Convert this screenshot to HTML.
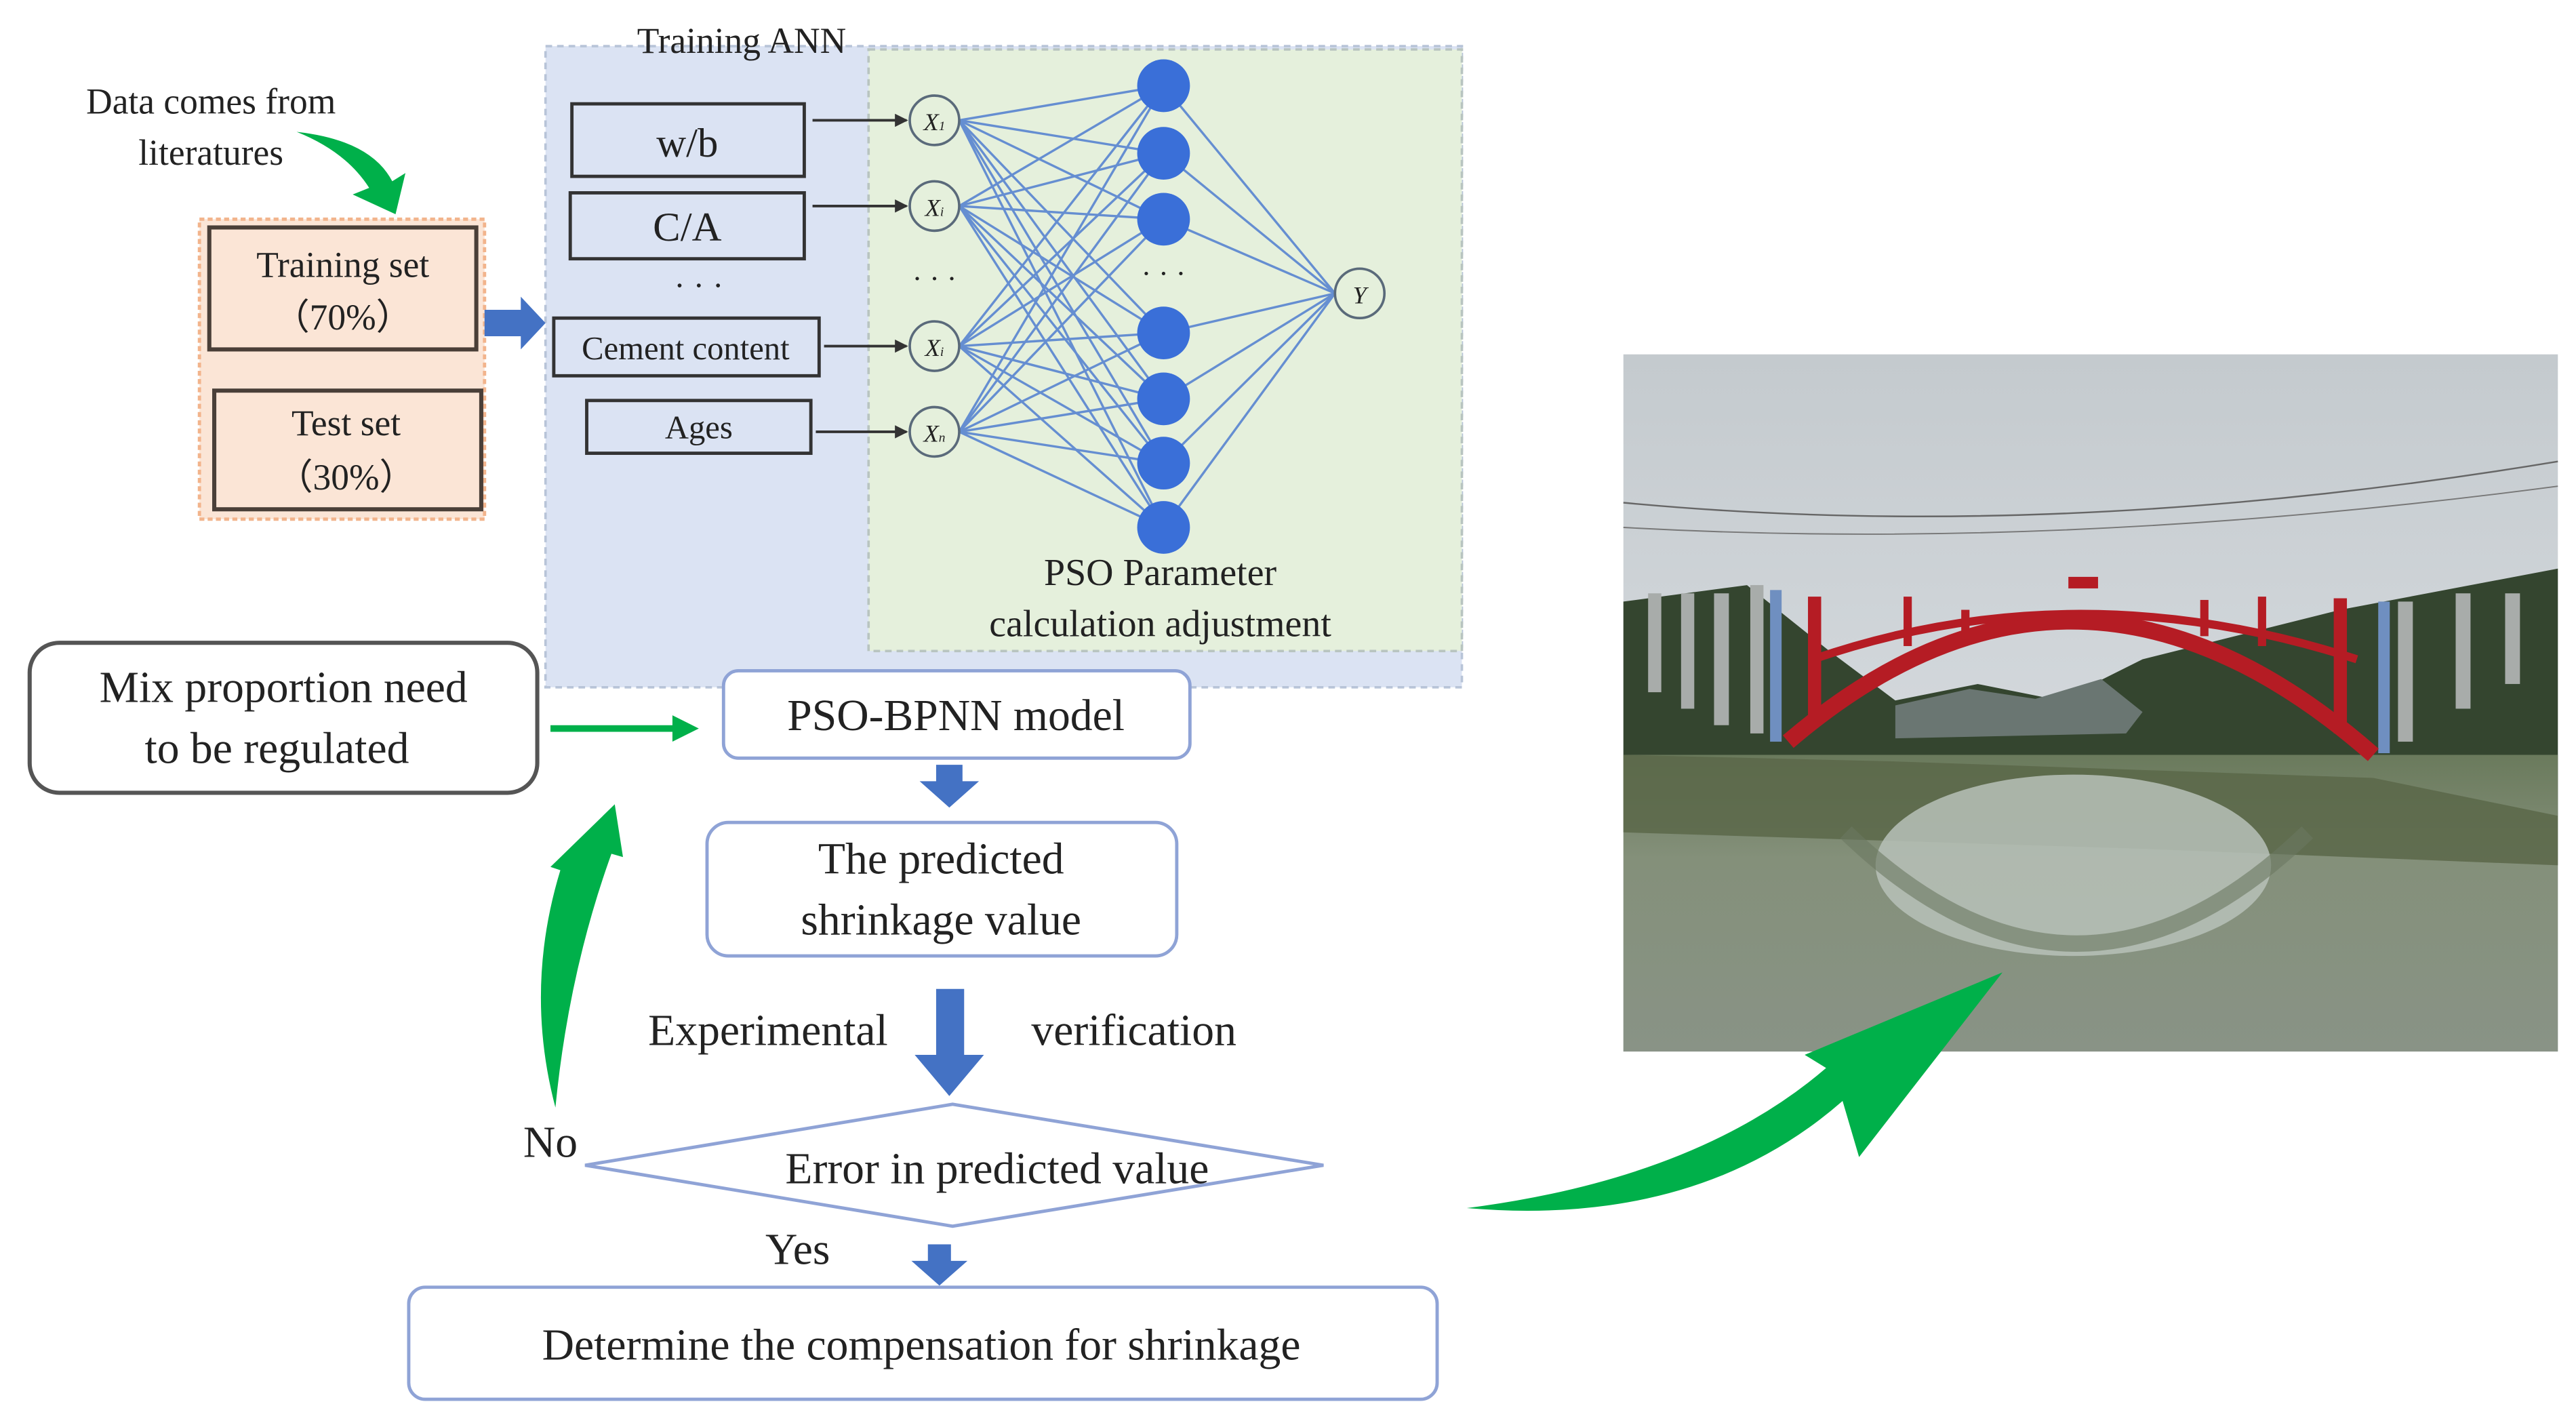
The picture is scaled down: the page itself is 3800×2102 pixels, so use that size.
<!DOCTYPE html>
<html><head><meta charset="utf-8"><style>
html,body{margin:0;padding:0;background:#fff;}
svg{display:block;}
svg text{font-family:"Liberation Serif","Times New Roman","DejaVu Serif",serif;fill:#222;}
</style></head><body>
<svg width="3800" height="2102" viewBox="0 0 1563 864.6" preserveAspectRatio="none" xmlns="http://www.w3.org/2000/svg" font-family="Liberation Serif, Times New Roman, DejaVu Serif, serif">
<defs>
<linearGradient id="sky" x1="0" y1="0" x2="0" y2="1">
<stop offset="0" stop-color="#c4cace"/><stop offset="0.5" stop-color="#d2d7db"/><stop offset="1" stop-color="#c8ced0"/>
</linearGradient>
<linearGradient id="water" x1="0" y1="0" x2="0" y2="1">
<stop offset="0" stop-color="#6a7a5c"/><stop offset="0.35" stop-color="#84907a"/><stop offset="1" stop-color="#899386"/>
</linearGradient>
<marker id="ah" markerWidth="8" markerHeight="8" refX="7" refY="4" orient="auto" markerUnits="userSpaceOnUse"><path d="M0,0 L8,4 L0,8 z" fill="#333"/></marker>
</defs>

<rect x="331" y="28" width="556" height="389" fill="#dbe3f3" stroke="#b8c4d8" stroke-width="1.5" stroke-dasharray="4,3"/>
<rect x="527" y="30" width="360" height="365" fill="#e5f0dc" stroke="#b8c4c0" stroke-width="1.5" stroke-dasharray="4,3"/>
<text x="450" y="32" font-size="22" text-anchor="middle">Training ANN</text>

<text x="128" y="69" font-size="22" text-anchor="middle">Data comes from</text>
<text x="128" y="100" font-size="22" text-anchor="middle">literatures</text>
<path d="M180,80 Q225,85 238,110 L246,105 L240,130 L214,118 L224,114 Q210,92 180,80 z" fill="#00b04a"/>

<rect x="121" y="133" width="173" height="182" fill="#fbe5d6" stroke="#f2b48c" stroke-width="2" stroke-dasharray="3,2"/>
<rect x="127" y="138" width="162" height="74" fill="#fbe5d6" stroke="#4a3f38" stroke-width="2.5"/>
<text x="208" y="168" font-size="22" text-anchor="middle">Training set</text>
<text x="208" y="200" font-size="22" text-anchor="middle">（70%）</text>
<rect x="130" y="237" width="162" height="72" fill="#fbe5d6" stroke="#4a3f38" stroke-width="2.5"/>
<text x="210" y="264" font-size="22" text-anchor="middle">Test set</text>
<text x="210" y="297" font-size="22" text-anchor="middle">（30%）</text>
<path d="M294,188 L316,188 L316,180 L331,196 L316,212 L316,204 L294,204 z" fill="#4472c4"/>

<g fill="#dbe3f3" stroke="#333" stroke-width="2">
<rect x="347" y="63" width="141" height="44"/>
<rect x="346" y="117" width="142" height="40"/>
<rect x="336" y="193" width="161" height="35"/>
<rect x="356" y="243" width="136" height="32"/>
</g>
<text x="417" y="95" font-size="25" text-anchor="middle">w/b</text>
<text x="417" y="146" font-size="25" text-anchor="middle">C/A</text>
<text x="424" y="180" font-size="20" text-anchor="middle">· · ·</text>
<text x="416" y="218" font-size="20" text-anchor="middle">Cement content</text>
<text x="424" y="266" font-size="20" text-anchor="middle">Ages</text>
<g stroke="#333" stroke-width="1.6" marker-end="url(#ah)">
<line x1="493" y1="73" x2="550" y2="73"/>
<line x1="493" y1="125" x2="550" y2="125"/>
<line x1="500" y1="210" x2="550" y2="210"/>
<line x1="495" y1="262" x2="550" y2="262"/>
</g>

<g stroke="#4f7ed0" stroke-width="1.4" opacity="0.85">
<line x1="582" y1="73" x2="706" y2="52"/><line x1="582" y1="73" x2="706" y2="93"/><line x1="582" y1="73" x2="706" y2="133"/><line x1="582" y1="73" x2="706" y2="202"/><line x1="582" y1="73" x2="706" y2="242"/><line x1="582" y1="73" x2="706" y2="281"/><line x1="582" y1="73" x2="706" y2="320"/>
<line x1="582" y1="125" x2="706" y2="52"/><line x1="582" y1="125" x2="706" y2="93"/><line x1="582" y1="125" x2="706" y2="133"/><line x1="582" y1="125" x2="706" y2="202"/><line x1="582" y1="125" x2="706" y2="242"/><line x1="582" y1="125" x2="706" y2="281"/><line x1="582" y1="125" x2="706" y2="320"/>
<line x1="582" y1="210" x2="706" y2="52"/><line x1="582" y1="210" x2="706" y2="93"/><line x1="582" y1="210" x2="706" y2="133"/><line x1="582" y1="210" x2="706" y2="202"/><line x1="582" y1="210" x2="706" y2="242"/><line x1="582" y1="210" x2="706" y2="281"/><line x1="582" y1="210" x2="706" y2="320"/>
<line x1="582" y1="262" x2="706" y2="52"/><line x1="582" y1="262" x2="706" y2="93"/><line x1="582" y1="262" x2="706" y2="133"/><line x1="582" y1="262" x2="706" y2="202"/><line x1="582" y1="262" x2="706" y2="242"/><line x1="582" y1="262" x2="706" y2="281"/><line x1="582" y1="262" x2="706" y2="320"/>
<line x1="706" y1="52" x2="810" y2="178"/><line x1="706" y1="93" x2="810" y2="178"/><line x1="706" y1="133" x2="810" y2="178"/><line x1="706" y1="202" x2="810" y2="178"/><line x1="706" y1="242" x2="810" y2="178"/><line x1="706" y1="281" x2="810" y2="178"/><line x1="706" y1="320" x2="810" y2="178"/>
</g>
<g fill="#e5f0dc" stroke="#5a6a7a" stroke-width="1.5">
<circle cx="567" cy="73" r="15"/><circle cx="567" cy="125" r="15"/><circle cx="567" cy="210" r="15"/><circle cx="567" cy="262" r="15"/><circle cx="825" cy="178" r="15"/>
</g>
<g font-size="15" font-style="italic" text-anchor="middle">
<text x="567" y="79">X<tspan font-size="8">1</tspan></text>
<text x="567" y="131">X<tspan font-size="8">i</tspan></text>
<text x="567" y="216">X<tspan font-size="8">i</tspan></text>
<text x="567" y="268">X<tspan font-size="8">n</tspan></text>
<text x="825" y="184">Y</text>
</g>
<text x="567" y="175" font-size="18" text-anchor="middle">· · ·</text>
<text x="706" y="172" font-size="18" text-anchor="middle">· · ·</text>
<g fill="#3a6fd8">
<circle cx="706" cy="52" r="16"/><circle cx="706" cy="93" r="16"/><circle cx="706" cy="133" r="16"/><circle cx="706" cy="202" r="16"/><circle cx="706" cy="242" r="16"/><circle cx="706" cy="281" r="16"/><circle cx="706" cy="320" r="16"/>
</g>
<text x="704" y="355" font-size="23" text-anchor="middle">PSO Parameter</text>
<text x="704" y="386" font-size="23" text-anchor="middle">calculation adjustment</text>

<rect x="18" y="390" width="308" height="91" rx="18" fill="#fff" stroke="#555" stroke-width="2.5"/>
<text x="172" y="426" font-size="27" text-anchor="middle">Mix proportion need</text>
<text x="168" y="463" font-size="27" text-anchor="middle">to be regulated</text>
<path d="M334,440 L408,440 L408,434 L424,442 L408,450 L408,444 L334,444 z" fill="#00b04a"/>

<rect x="439" y="407" width="283" height="53" rx="9" fill="#fff" stroke="#8fa3d6" stroke-width="2"/>
<text x="580" y="443" font-size="27" text-anchor="middle">PSO-BPNN model</text>
<path d="M568,464 L584,464 L584,474 L594,474 L576,490 L558,474 L568,474 z" fill="#4472c4"/>

<rect x="429" y="499" width="285" height="81" rx="13" fill="#fff" stroke="#8fa3d6" stroke-width="2"/>
<text x="571" y="530" font-size="27" text-anchor="middle">The predicted</text>
<text x="571" y="567" font-size="27" text-anchor="middle">shrinkage value</text>

<path d="M568,600 L585,600 L585,640 L597,640 L576,665 L555,640 L568,640 z" fill="#4472c4"/>
<text x="466" y="634" font-size="27" text-anchor="middle">Experimental</text>
<text x="688" y="634" font-size="27" text-anchor="middle">verification</text>

<polygon points="355,707 578,670 803,707 578,744" fill="#fff" stroke="#8fa3d6" stroke-width="2"/>
<text x="605" y="718" font-size="27" text-anchor="middle">Error in predicted value</text>
<text x="334" y="702" font-size="27" text-anchor="middle">No</text>
<text x="484" y="767" font-size="27" text-anchor="middle">Yes</text>
<path d="M563,755 L577,755 L577,765 L587,765 L570,780 L553,765 L563,765 z" fill="#4472c4"/>

<rect x="248" y="781" width="624" height="68" rx="10" fill="#fff" stroke="#8fa3d6" stroke-width="2"/>
<text x="559" y="825" font-size="27" text-anchor="middle">Determine the compensation for shrinkage</text>

<path d="M337,672 Q318,600 340,528 L334,526 L373,488 L378,520 L371,518 Q345,590 337,672 z" fill="#00b04a"/>

<!-- photo -->
<rect x="985" y="215" width="567" height="423" fill="url(#sky)"/>
<path d="M985,365 L1060,355 L1110,395 L1150,425 L1200,415 L1250,425 L1300,400 L1360,385 L1420,370 L1552,345 L1552,495 L1440,472 L1150,462 L985,458 z" fill="#34452f"/>
<path d="M1150,428 L1195,418 L1235,424 L1275,412 L1300,432 L1290,445 L1150,448 z" fill="#6a7672"/>
<rect x="985" y="458" width="567" height="180" fill="url(#water)"/>
<path d="M985,458 L1150,462 L1440,472 L1552,495 L1552,525 L1300,515 L985,505 z" fill="#5a6749" opacity="0.85"/>
<ellipse cx="1258" cy="525" rx="120" ry="55" fill="#b7c1b8" opacity="0.85"/>
<path d="M1120,505 Q1260,640 1400,505" fill="none" stroke="#6a7860" stroke-width="10" opacity="0.6"/>
<g fill="#a8acaa">
<rect x="1000" y="360" width="8" height="60"/><rect x="1020" y="360" width="8" height="70"/><rect x="1040" y="360" width="9" height="80"/><rect x="1062" y="355" width="8" height="90"/>
<rect x="1455" y="365" width="9" height="85"/><rect x="1490" y="360" width="9" height="70"/><rect x="1520" y="360" width="9" height="55"/>
</g>
<rect x="1074" y="358" width="7" height="92" fill="#6f8fc0"/>
<rect x="1443" y="365" width="7" height="92" fill="#6f8fc0"/>
<path d="M1085,450 Q1260,300 1440,458" fill="none" stroke="#b51c24" stroke-width="10"/>
<path d="M1100,400 Q1260,345 1430,400" fill="none" stroke="#b51c24" stroke-width="5"/>
<g fill="#b51c24">
<rect x="1097" y="362" width="8" height="78"/><rect x="1416" y="363" width="8" height="82"/>
<rect x="1155" y="362" width="5" height="30"/><rect x="1190" y="370" width="5" height="18"/><rect x="1335" y="364" width="5" height="22"/><rect x="1370" y="362" width="5" height="30"/>
<rect x="1255" y="350" width="18" height="7"/>
</g>
<path d="M985,305 Q1250,330 1552,280" fill="none" stroke="#666" stroke-width="1"/>
<path d="M985,320 Q1250,335 1552,295" fill="none" stroke="#777" stroke-width="0.8"/>

<path d="M890,733 Q1030,745 1118,668 L1128,702 L1215,590 L1095,640 L1108,648 Q1030,715 890,733 z" fill="#00b04a"/>
</svg>
</body></html>
